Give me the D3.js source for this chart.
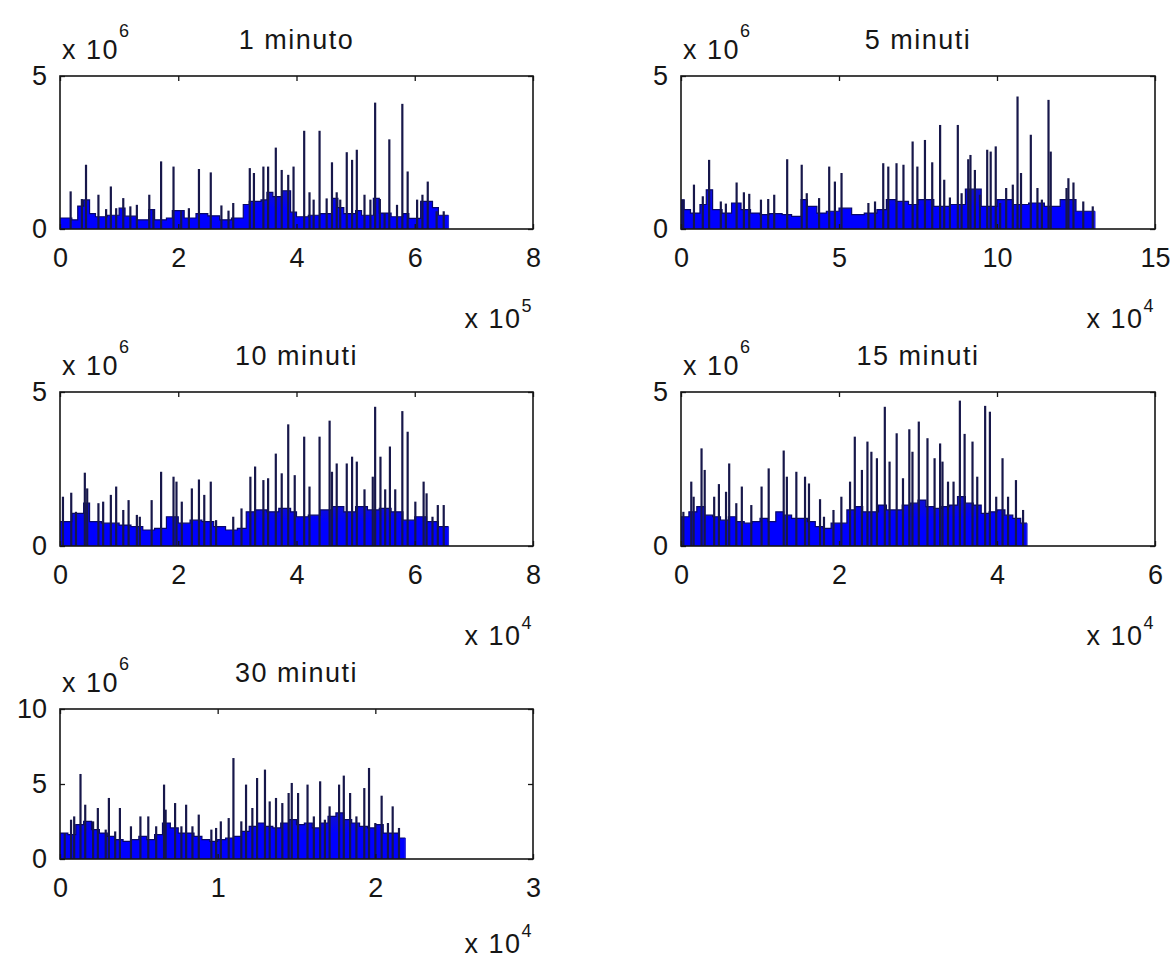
<!DOCTYPE html>
<html>
<head>
<meta charset="utf-8">
<script src="https://cdn.jsdelivr.net/npm/d3@7/dist/d3.min.js"></script>
<style>
  html, body { margin: 0; padding: 0; background: #fff; }
  svg { display: block; }
  text { font-family: "Liberation Sans", Arial, sans-serif; fill: #161616; }
</style>
</head>
<body>
<svg id="fig" width="1170" height="959"></svg>
<script>
// ---------- titles, axes, tick labels ----------
const titles = ["1 minuto", "5 minuti", "10 minuti", "15 minuti", "30 minuti"];
const xTickLabels = [[0, 2, 4, 6, 8], [0, 5, 10, 15], [0, 2, 4, 6, 8], [0, 2, 4, 6], [0, 1, 2, 3]];
const yTickLabels = [[0, 5], [0, 5], [0, 5], [0, 5], [0, 5, 10]];
const xExponents = [5, 4, 4, 4, 4];
const yExponents = [6, 6, 6, 6, 6];

// ---------- volume series (x in units of 10^xExp, y in units of 10^6) ----------
// Dense lower band: start of each segment and its level, plus where the series ends.
const p1BaseX = [0, 0.2, 0.3, 0.4, 0.5, 0.6, 0.8, 1.0, 1.1, 1.3, 1.5, 1.6, 1.8, 1.9, 2.1, 2.3, 2.5, 2.7, 2.9, 3.1, 3.2, 3.4, 3.5, 3.6, 3.75, 3.9, 4.0, 4.2, 4.4, 4.6, 4.7, 4.8, 5.0, 5.1, 5.3, 5.4, 5.6, 5.8, 5.9, 6.1, 6.3, 6.4];
const p1BaseY = [0.36, 0.30, 0.75, 0.95, 0.50, 0.40, 0.45, 0.68, 0.42, 0.30, 0.63, 0.30, 0.36, 0.60, 0.36, 0.50, 0.43, 0.30, 0.36, 0.80, 0.90, 0.95, 1.20, 1.06, 1.25, 0.55, 0.40, 0.45, 0.50, 1.00, 0.70, 0.50, 0.60, 0.45, 1.00, 0.52, 0.40, 0.50, 0.35, 0.90, 0.70, 0.45];
const p1End = 6.57;
// Individual tall bars
const p1SpikeX = [0.18, 0.37, 0.44, 0.65, 0.78, 0.86, 0.95, 1.07, 1.19, 1.30, 1.51, 1.58, 1.71, 1.92, 2.05, 2.18, 2.35, 2.55, 2.73, 2.85, 2.93, 3.21, 3.28, 3.44, 3.52, 3.65, 3.75, 3.86, 3.95, 4.13, 4.22, 4.29, 4.39, 4.51, 4.60, 4.68, 4.74, 4.85, 4.94, 5.02, 5.15, 5.25, 5.33, 5.41, 5.49, 5.57, 5.70, 5.79, 5.88, 6.04, 6.13, 6.22, 6.37, 6.49];
const p1SpikeY = [1.23, 0.98, 2.10, 1.12, 0.65, 1.39, 0.68, 1.01, 0.74, 0.79, 1.12, 0.63, 2.21, 2.04, 0.60, 0.68, 1.96, 1.85, 0.77, 0.60, 0.85, 1.99, 1.83, 2.04, 2.04, 2.66, 1.93, 1.77, 2.04, 3.21, 1.20, 0.96, 3.21, 1.00, 2.18, 1.20, 0.96, 2.51, 2.26, 2.59, 1.12, 0.96, 4.13, 0.98, 0.52, 2.93, 0.79, 4.09, 1.88, 0.96, 1.12, 1.55, 0.58, 0.58];

const p2BaseX = [0, 0.1, 0.3, 0.6, 0.8, 1.0, 1.3, 1.6, 1.9, 2.2, 2.5, 2.8, 3.2, 3.5, 3.8, 4.0, 4.3, 4.6, 5.0, 5.4, 5.8, 6.2, 6.5, 6.8, 7.2, 7.5, 8.0, 8.5, 9.0, 9.5, 10.0, 10.5, 11.0, 11.5, 12.0, 12.5];
const p2BaseY = [0.95, 0.63, 0.52, 0.80, 1.28, 0.63, 0.52, 0.85, 0.63, 0.52, 0.47, 0.50, 0.47, 0.41, 0.96, 0.74, 0.52, 0.58, 0.68, 0.47, 0.52, 0.63, 0.96, 0.90, 0.80, 0.96, 0.74, 0.80, 1.30, 0.74, 0.96, 0.80, 0.85, 0.74, 0.96, 0.58];
const p2End = 13.1;
const p2SpikeX = [0.07, 0.41, 0.69, 0.89, 1.26, 1.42, 1.76, 1.99, 2.16, 2.53, 2.76, 2.95, 3.36, 3.82, 3.98, 4.37, 4.69, 4.87, 5.08, 5.93, 6.14, 6.40, 6.56, 6.82, 7.04, 7.33, 7.48, 7.72, 7.95, 8.20, 8.33, 8.51, 8.76, 8.88, 9.09, 9.16, 9.30, 9.46, 9.69, 9.80, 9.96, 10.10, 10.29, 10.50, 10.65, 10.76, 11.07, 11.28, 11.42, 11.63, 11.70, 12.20, 12.26, 12.42, 12.73, 13.03];
const p2SpikeY = [0.96, 1.45, 1.07, 2.26, 0.90, 0.83, 1.52, 1.20, 1.15, 0.96, 0.98, 1.12, 2.28, 2.10, 1.17, 1.01, 2.04, 1.55, 1.83, 0.85, 0.90, 2.15, 2.04, 2.15, 2.10, 2.86, 2.04, 2.91, 2.18, 3.40, 1.61, 1.03, 3.40, 1.17, 2.28, 2.42, 1.93, 1.12, 2.59, 2.53, 2.70, 0.85, 1.34, 1.45, 4.33, 1.83, 3.08, 1.34, 0.96, 4.22, 2.53, 1.34, 1.66, 1.52, 0.90, 0.74];

const p3BaseX = [0, 0.2, 0.4, 0.5, 0.7, 1.0, 1.2, 1.4, 1.6, 1.8, 2.0, 2.2, 2.4, 2.6, 2.8, 3.0, 3.15, 3.3, 3.5, 3.7, 3.9, 4.0, 4.2, 4.4, 4.6, 4.8, 5.0, 5.2, 5.4, 5.6, 5.8, 6.0, 6.2, 6.4];
const p3BaseY = [0.79, 1.06, 1.39, 0.79, 0.74, 0.68, 0.63, 0.52, 0.57, 0.95, 0.74, 0.84, 0.79, 0.63, 0.52, 0.57, 1.11, 1.17, 1.11, 1.22, 1.11, 0.95, 1.00, 1.17, 1.28, 1.11, 1.28, 1.17, 1.22, 1.11, 0.84, 0.95, 0.79, 0.63];
const p3End = 6.57;
const p3SpikeX = [0.05, 0.19, 0.27, 0.42, 0.46, 0.65, 0.73, 0.86, 0.95, 1.07, 1.16, 1.30, 1.35, 1.55, 1.71, 1.92, 1.97, 2.06, 2.23, 2.35, 2.44, 2.55, 2.64, 2.93, 3.07, 3.22, 3.30, 3.44, 3.52, 3.65, 3.75, 3.86, 3.97, 4.13, 4.22, 4.39, 4.56, 4.60, 4.68, 4.85, 4.94, 5.02, 5.15, 5.29, 5.33, 5.42, 5.50, 5.58, 5.67, 5.79, 5.88, 6.01, 6.15, 6.20, 6.30, 6.39, 6.49];
const p3SpikeY = [1.60, 1.73, 1.11, 2.38, 1.87, 1.39, 1.44, 1.66, 1.93, 1.17, 1.49, 1.01, 0.95, 1.49, 2.41, 2.25, 2.09, 1.44, 1.87, 2.16, 1.66, 2.09, 0.84, 0.95, 1.22, 2.25, 2.58, 2.14, 2.20, 3.00, 2.36, 3.95, 2.30, 3.55, 1.93, 3.55, 4.07, 2.41, 2.68, 2.68, 2.90, 2.74, 1.84, 2.25, 4.52, 2.90, 1.84, 3.23, 1.84, 4.38, 3.71, 1.44, 2.09, 1.71, 0.95, 1.33, 1.33];

const p4BaseX = [0, 0.1, 0.2, 0.3, 0.4, 0.5, 0.6, 0.7, 0.8, 0.9, 1.0, 1.1, 1.2, 1.3, 1.4, 1.5, 1.6, 1.7, 1.8, 1.9, 2.0, 2.1, 2.2, 2.3, 2.4, 2.5, 2.6, 2.7, 2.8, 2.9, 3.0, 3.1, 3.2, 3.3, 3.4, 3.5, 3.6, 3.7, 3.8, 3.9, 4.0, 4.1, 4.2, 4.3];
const p4BaseY = [0.95, 1.11, 1.28, 1.00, 0.95, 0.84, 0.95, 0.79, 0.74, 0.79, 0.90, 0.79, 1.11, 1.00, 0.90, 0.90, 0.79, 0.63, 0.57, 0.74, 0.74, 1.17, 1.28, 1.11, 1.11, 1.33, 1.17, 1.17, 1.33, 1.39, 1.49, 1.28, 1.22, 1.28, 1.33, 1.60, 1.39, 1.33, 1.06, 1.11, 1.17, 1.00, 0.90, 0.74];
const p4End = 4.38;
const p4SpikeX = [0.03, 0.13, 0.16, 0.26, 0.30, 0.42, 0.48, 0.57, 0.61, 0.70, 0.77, 0.89, 1.02, 1.11, 1.30, 1.34, 1.46, 1.57, 1.62, 1.76, 1.81, 1.93, 2.03, 2.14, 2.20, 2.29, 2.36, 2.41, 2.48, 2.58, 2.64, 2.73, 2.81, 2.89, 2.93, 3.01, 3.12, 3.21, 3.28, 3.31, 3.38, 3.45, 3.53, 3.59, 3.69, 3.75, 3.85, 3.91, 3.99, 4.07, 4.14, 4.24, 4.33];
const p4SpikeY = [1.11, 2.09, 1.60, 3.17, 2.47, 1.60, 2.01, 1.76, 2.68, 1.39, 1.93, 1.33, 1.93, 2.52, 3.10, 2.25, 2.41, 2.25, 2.03, 1.52, 0.95, 1.17, 1.60, 2.09, 3.55, 2.47, 3.39, 3.06, 2.85, 4.52, 2.74, 3.66, 2.20, 3.79, 3.06, 4.04, 3.50, 2.85, 3.33, 2.74, 2.09, 2.09, 4.72, 3.64, 3.39, 2.25, 4.55, 4.36, 1.60, 2.85, 1.60, 2.14, 1.17];

const p5BaseX = [0, 0.05, 0.10, 0.15, 0.20, 0.25, 0.30, 0.35, 0.40, 0.45, 0.50, 0.55, 0.60, 0.65, 0.70, 0.75, 0.80, 0.85, 0.90, 0.95, 1.00, 1.05, 1.10, 1.15, 1.20, 1.25, 1.30, 1.35, 1.40, 1.45, 1.50, 1.55, 1.60, 1.65, 1.70, 1.75, 1.80, 1.85, 1.90, 1.95, 2.00, 2.05, 2.10, 2.15];
const p5BaseY = [1.73, 1.62, 2.29, 2.51, 1.96, 1.73, 1.51, 1.29, 1.18, 1.29, 1.51, 1.29, 1.62, 2.40, 2.07, 1.73, 1.73, 1.51, 1.29, 1.18, 1.29, 1.40, 1.51, 1.84, 2.18, 2.40, 2.18, 2.07, 2.40, 2.62, 2.29, 2.40, 2.07, 2.40, 2.84, 3.07, 2.62, 2.40, 2.18, 2.07, 2.29, 1.73, 1.73, 1.40];
const p5End = 2.19;
const p5SpikeX = [0.03, 0.07, 0.09, 0.13, 0.16, 0.21, 0.24, 0.29, 0.31, 0.35, 0.38, 0.45, 0.51, 0.56, 0.61, 0.66, 0.67, 0.73, 0.77, 0.80, 0.84, 0.88, 0.96, 0.99, 1.02, 1.07, 1.10, 1.15, 1.18, 1.22, 1.25, 1.30, 1.33, 1.37, 1.41, 1.45, 1.47, 1.51, 1.57, 1.61, 1.65, 1.68, 1.71, 1.77, 1.80, 1.84, 1.88, 1.93, 1.96, 2.00, 2.04, 2.08, 2.11, 2.15];
const p5SpikeY = [1.73, 2.62, 2.84, 5.67, 3.62, 2.51, 3.40, 1.96, 4.07, 1.84, 3.40, 2.18, 2.84, 2.84, 2.18, 4.96, 3.29, 3.73, 2.18, 3.62, 2.18, 2.96, 1.96, 2.07, 2.51, 2.73, 6.73, 2.51, 4.96, 3.40, 5.40, 5.96, 3.84, 4.07, 3.73, 4.40, 5.07, 4.40, 4.96, 2.84, 5.18, 2.62, 3.51, 4.96, 5.56, 4.40, 2.84, 4.73, 6.07, 2.40, 4.22, 2.40, 3.51, 2.07];

// ---------- figure layout: plot boxes [left, top, right, bottom] ----------
const boxes = [
  [60, 76, 533, 229],
  [681, 76, 1155, 229],
  [60, 392, 533, 546],
  [681, 392, 1155, 546],
  [60, 709, 533, 859]
];
const xExpLabelDrop = [99, 99, 99, 99, 94];

const series = [
  { baseX: p1BaseX, baseY: p1BaseY, end: p1End, spikeX: p1SpikeX, spikeY: p1SpikeY },
  { baseX: p2BaseX, baseY: p2BaseY, end: p2End, spikeX: p2SpikeX, spikeY: p2SpikeY },
  { baseX: p3BaseX, baseY: p3BaseY, end: p3End, spikeX: p3SpikeX, spikeY: p3SpikeY },
  { baseX: p4BaseX, baseY: p4BaseY, end: p4End, spikeX: p4SpikeX, spikeY: p4SpikeY },
  { baseX: p5BaseX, baseY: p5BaseY, end: p5End, spikeX: p5SpikeX, spikeY: p5SpikeY }
];

const FILL_LOW = "#0000ff";
const FILL_HIGH = "#1212c8";
const EDGE = "#08086a";
const SPIKE = "#17174a";
const FONT = 27;
const SUP = 18;

const svg = d3.select("#fig");

// fill for the bar runs: bright at the axis, a deeper blue higher up
const grad = svg.append("defs").append("linearGradient")
  .attr("id", "barFill").attr("x1", 0).attr("y1", 1).attr("x2", 0).attr("y2", 0);
grad.append("stop").attr("offset", "0%").attr("stop-color", FILL_LOW);
grad.append("stop").attr("offset", "55%").attr("stop-color", FILL_LOW);
grad.append("stop").attr("offset", "100%").attr("stop-color", FILL_HIGH);

series.forEach((s, i) => {
  const [l, t, r, b] = boxes[i];
  const xt = xTickLabels[i], yt = yTickLabels[i];
  const x = d3.scaleLinear().domain([xt[0], xt[xt.length - 1]]).range([l, r]);
  const y = d3.scaleLinear().domain([yt[0], yt[yt.length - 1]]).range([b, t]);
  const g = svg.append("g");

  // dense lower band as a stepped bar run
  const pts = s.baseX.map((v, k) => [v, s.baseY[k]]);
  pts.push([s.end, s.baseY[s.baseY.length - 1]]);
  const area = d3.area().curve(d3.curveStepAfter)
    .x(d => x(d[0])).y0(y(0)).y1(d => y(d[1]));
  g.append("path").attr("d", area(pts)).attr("fill", "url(#barFill)");
  const top = d3.line().curve(d3.curveStepAfter).x(d => x(d[0])).y(d => y(d[1]));
  g.append("path").attr("d", top(pts)).attr("fill", "none")
    .attr("stroke", EDGE).attr("stroke-width", 1.2);
  // closing edge of the last bar
  g.append("line")
    .attr("x1", x(s.end)).attr("x2", x(s.end))
    .attr("y1", y(0)).attr("y2", y(s.baseY[s.baseY.length - 1]))
    .attr("stroke", "#2a2ad8").attr("stroke-width", 1.2);

  // tall individual bars
  g.selectAll("line.spike").data(s.spikeX.map((v, k) => [v, s.spikeY[k]]))
    .join("line").attr("class", "spike")
    .attr("x1", d => x(d[0])).attr("x2", d => x(d[0]))
    .attr("y1", y(0)).attr("y2", d => y(d[1]))
    .attr("stroke", SPIKE).attr("stroke-width", 2.2);

  // axes with inward ticks
  const ax = g.append("g");
  ax.append("g").attr("transform", `translate(0,${b})`)
    .call(d3.axisBottom(x).tickValues(xt).tickSize(-5).tickSizeOuter(0).tickPadding(19).tickFormat(d3.format("d")));
  ax.append("g").attr("transform", `translate(0,${t})`)
    .call(d3.axisTop(x).tickValues(xt).tickSize(-5).tickSizeOuter(0).tickFormat(""));
  ax.append("g").attr("transform", `translate(${l},0)`)
    .call(d3.axisLeft(y).tickValues(yt).tickSize(-5).tickSizeOuter(0).tickPadding(13).tickFormat(d3.format("d")));
  ax.append("g").attr("transform", `translate(${r},0)`)
    .call(d3.axisRight(y).tickValues(yt).tickSize(-5).tickSizeOuter(0).tickFormat(""));
  ax.selectAll(".domain").remove();
  ax.selectAll(".tick line").attr("stroke", "#161616").attr("stroke-width", 1.3);
  ax.selectAll(".tick text").attr("font-size", FONT).attr("fill", "#161616")
    .attr("font-family", "Liberation Sans, Arial, sans-serif");

  // axes box
  g.append("rect").attr("x", l).attr("y", t).attr("width", r - l).attr("height", b - t)
    .attr("fill", "none").attr("stroke", "#161616").attr("stroke-width", 1.6);

  // title
  g.append("text").attr("x", (l + r) / 2).attr("y", t - 27)
    .attr("text-anchor", "middle").attr("font-size", FONT)
    .attr("letter-spacing", 1.5).text(titles[i]);

  // y multiplier
  const ye = g.append("text").attr("x", l + 2).attr("y", t - 17)
    .attr("font-size", FONT).attr("letter-spacing", 1.5);
  ye.append("tspan").text("x 10");
  ye.append("tspan").attr("dy", -22).attr("font-size", SUP).text(yExponents[i]);

  // x multiplier
  const xe = g.append("text").attr("x", r).attr("y", b + xExpLabelDrop[i])
    .attr("text-anchor", "end").attr("font-size", FONT).attr("letter-spacing", 1.5);
  xe.append("tspan").text("x 10");
  xe.append("tspan").attr("dy", -16).attr("font-size", SUP).text(xExponents[i]);
});
</script>
</body>
</html>
